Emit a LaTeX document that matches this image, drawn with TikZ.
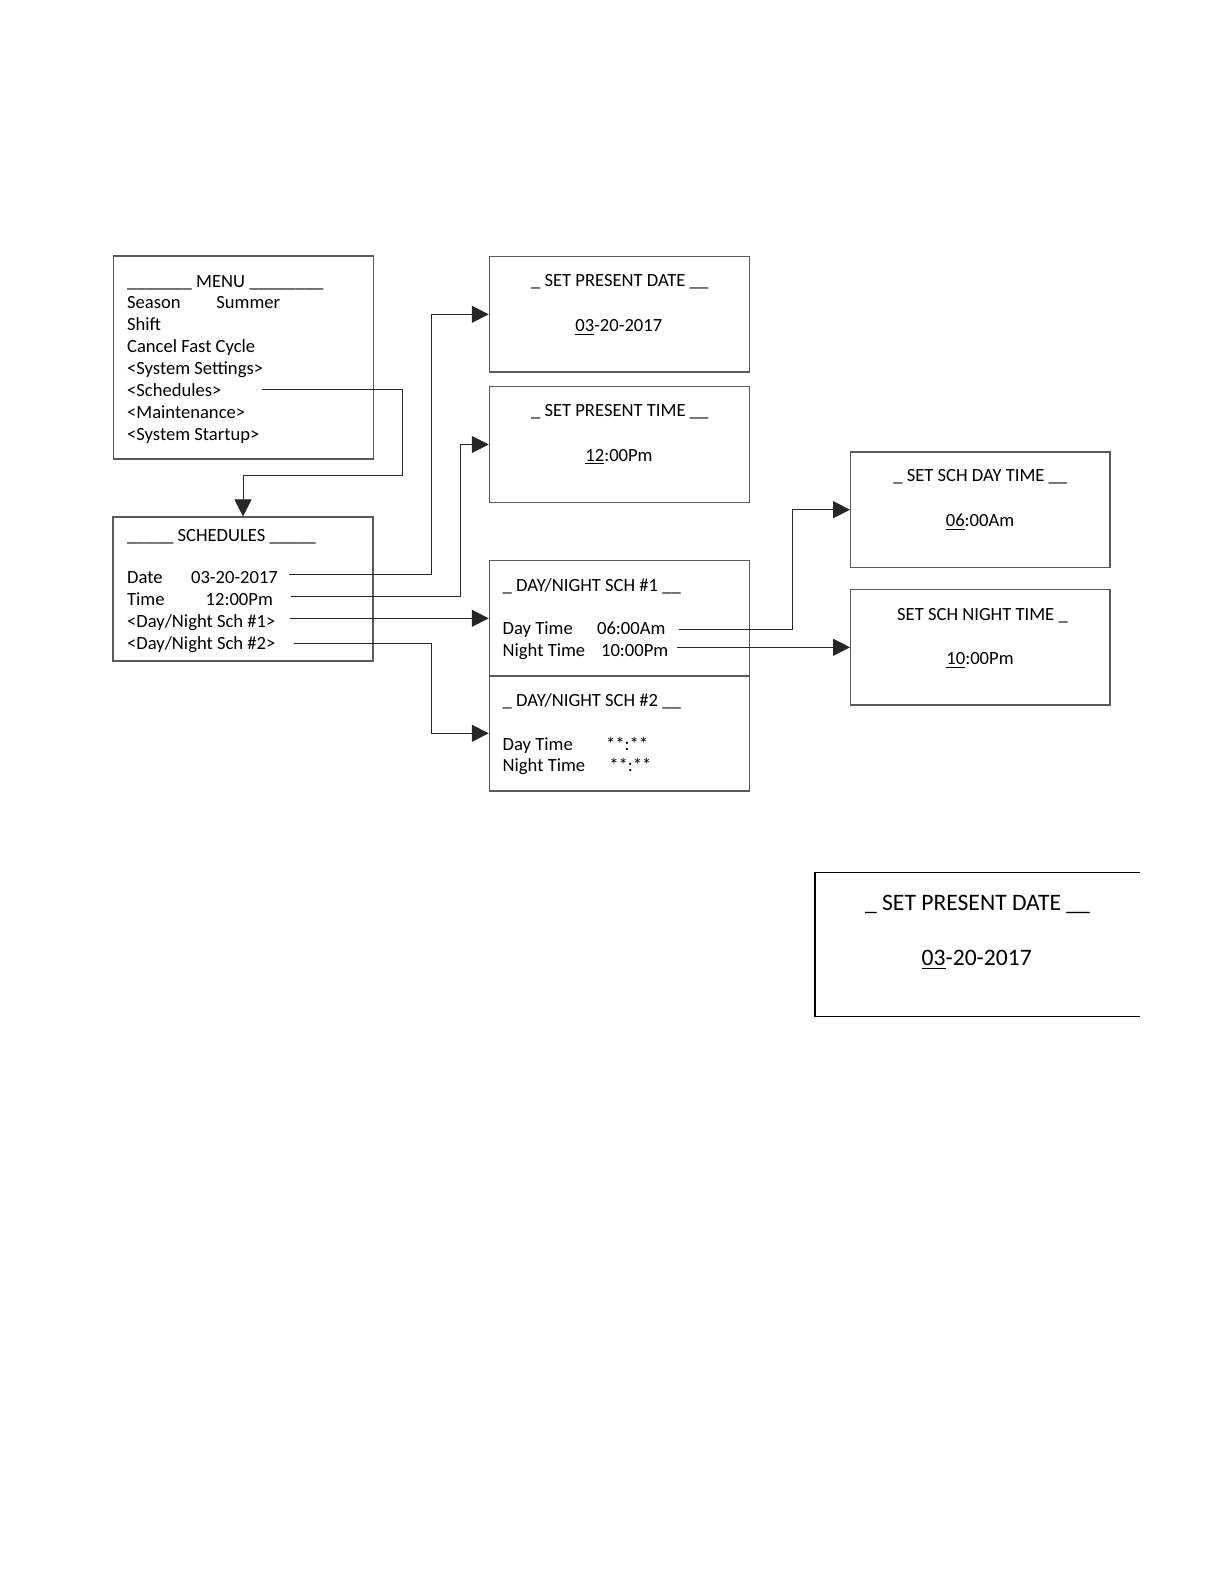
\documentclass[tikz,border=0pt]{standalone}
\usepackage{fontspec}
\setmainfont{Carlito}
\usetikzlibrary{arrows.meta}
\tikzset{
	panel/.style={draw=black!65, line width=0.55pt, minimum width=130pt, minimum height=57.7pt, inner sep=0pt},
	txt/.style={anchor=base west, inner sep=0pt, font=\fontsize{9.3}{11}\selectfont},
	ctxt/.style={anchor=base, inner sep=0pt, font=\fontsize{9.3}{11}\selectfont},
	link/.style={line width=0.5pt, draw=black!85, -{Triangle[length=8.5pt, width=8.5pt]}},
}
\begin{document}
\begin{tikzpicture}[x=0.5pt, y=-0.5pt]
			%%%%% START %%%%%
			\useasboundingbox (0,0) rectangle (1224,1584);
			
			% menu
			\node[panel, minimum height=101.5pt] (menu) at (243.3,357.5) {};
			\node[txt] (menutitle) at (126.7,287) {\_\_\_\_\_\_\_ MENU \_\_\_\_\_\_\_\_};
			\node[txt] (season) at (126.7,308.9) {Season};
			\node[txt] (summer) at (216,308.9) {Summer};
			\node[txt] (shift) at (126.7,330.8) {Shift};
			\node[txt] (cancel) at (126.7,352.7) {Cancel Fast Cycle};
			\node[txt] (settings) at (126.7,374.6) {<System Settings>};
			\node[txt] (schedules) at (126.7,396.5) {<Schedules>};
			\node[txt] (maint) at (126.7,418.4) {<Maintenance>};
			\node[txt] (startup) at (126.7,440.3) {<System Startup>};
			\coordinate (schedout) at (261.7,389.3);
			
			% schedules
			\node[panel, minimum height=72pt] (sched) at (243,589) {};
			\node[txt] (schedtitle) at (126.7,541) {\_\_\_\_\_ SCHEDULES \_\_\_\_\_};
			\node[txt] (datelbl) at (126.7,583.3) {Date};
			\node[txt] (dateval) at (190.7,583.3) {03-20-2017};
			\node[txt] (timelbl) at (126.7,605.5) {Time};
			\node[txt] (timeval) at (205.3,605.5) {12:00Pm};
			\node[txt] (dn1lbl) at (126.7,627.3) {<Day/Night Sch \#1>};
			\node[txt] (dn2lbl) at (126.7,649.2) {<Day/Night Sch \#2>};
			\coordinate (dateout) at (289,574);
			\coordinate (timeout) at (290.7,596);
			\coordinate (dn1out) at (290,618.3);
			\coordinate (dn2out) at (294,643);
			
			% set present date / time
			\node[panel] (setdate) at (619.3,314.3) {};
			\node[ctxt] (setdatetitle) at (619.7,286.7) {\_ SET PRESENT DATE \_\_};
			\node[ctxt] (setdateval) at (618.8,331) {\underline{03}-20-2017};
			
			\node[panel] (settime) at (619.3,444.5) {};
			\node[ctxt] (settimetitle) at (619.7,416.7) {\_ SET PRESENT TIME \_\_};
			\node[ctxt] (settimeval) at (619,461) {\underline{12}:00Pm};
			
			% day/night schedules
			\node[panel] (dn1) at (619.3,618.3) {};
			\node[txt] (dn1title) at (502.3,591) {\_ DAY/NIGHT SCH \#1 \_\_};
			\node[txt] (dn1day) at (502.3,634.3) {Day Time};
			\node[txt] (dn1dayval) at (596.7,634.3) {06:00Am};
			\node[txt] (dn1night) at (502.3,656) {Night Time};
			\node[txt] (dn1nightval) at (600.7,656) {10:00Pm};
			\coordinate (dayout) at (679,629);
			\coordinate (nightout) at (677,647.3);
			
			\node[panel] (dn2) at (619.3,733.3) {};
			\node[txt] (dn2title) at (502.3,706.7) {\_ DAY/NIGHT SCH \#2 \_\_};
			\node[txt] (dn2day) at (502.3,750) {Day Time};
			\node[txt] (dn2dayval) at (605.7,750) {**:**};
			\node[txt] (dn2night) at (502.3,771.7) {Night Time};
			\node[txt] (dn2nightval) at (609,771.7) {**:**};
			
			% set sch day / night time
			\node[panel, minimum width=129.7pt] (schday) at (980.3,509.7) {};
			\node[ctxt] (schdaytitle) at (980.3,481.7) {\_ SET SCH DAY TIME \_\_};
			\node[ctxt] (schdayval) at (980,526) {\underline{06}:00Am};
			
			\node[panel, minimum width=129.7pt] (schnight) at (980.3,647.3) {};
			\node[ctxt] (schnighttitle) at (982.5,620) {SET SCH NIGHT TIME \_};
			\node[ctxt] (schnightval) at (980,664) {\underline{10}:00Pm};
			
			% connectors
			\draw[link] (schedout) -- (402.7,389.3) |- (243,475.3) -- (sched.north);
			\draw[link] (dateout) -- (431,574) |- (setdate.west);
			\draw[link] (timeout) -- (460.7,596) |- (settime.west);
			\draw[link] (dn1out) -- (dn1.west);
			\draw[link] (dn2out) -- (431,643) |- (dn2.west);
			\draw[link] (dayout) -- (792.6,629) |- (schday.west);
			\draw[link] (nightout) -- (schnight.west);
			
			% enlarged copy, cut off at the right
			\draw[line width=0.6pt] (1140,872.7) -- (815,872.7) -- (815,1016.7) -- (1140,1016.7);
			\node[anchor=base, inner sep=0pt, font=\fontsize{11.8}{14}\selectfont] (bigtitle) at (977.5,910) {\_ SET PRESENT DATE \_\_};
			\node[anchor=base, inner sep=0pt, font=\fontsize{11.8}{14}\selectfont] (bigval) at (976.7,965) {\underline{03}-20-2017};
			
			%%%%% END %%%%%
\end{tikzpicture}
\end{document}
